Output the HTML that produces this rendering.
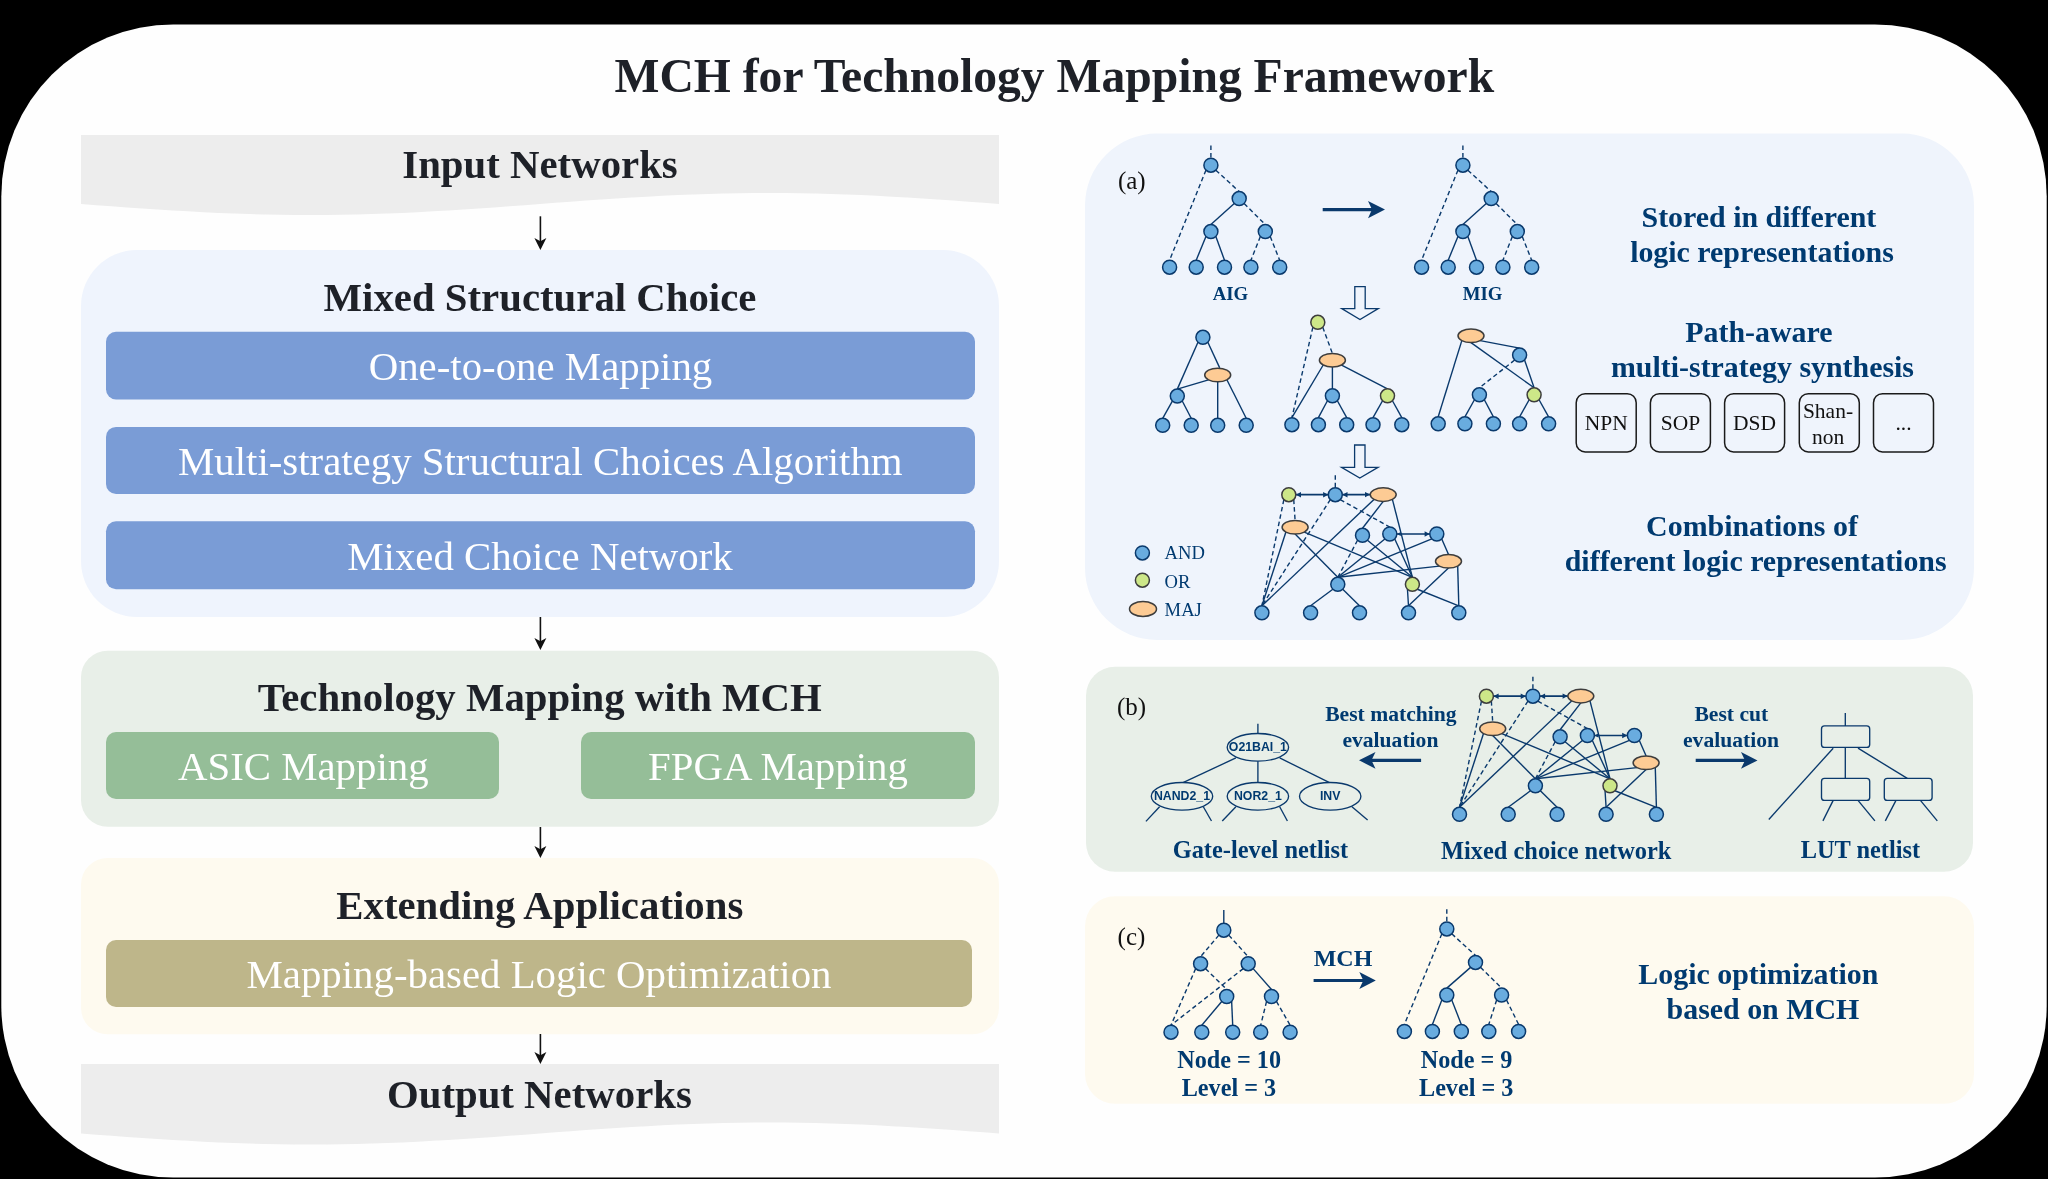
<!DOCTYPE html><html><head><meta charset="utf-8"><style>html,body{margin:0;padding:0;background:#000;width:2048px;height:1179px;overflow:hidden}svg{display:block;will-change:transform}</style></head><body><svg width="2048" height="1179" viewBox="0 0 2048 1179">
<rect x="0" y="0" width="2048" height="1179" fill="#000"/>
<rect x="1.3" y="24.4" width="2045.4" height="1153.1" rx="172" ry="172" fill="#fefefe"/>
<text x="1054.35" y="92.20" font-family="Liberation Serif" font-size="47.6" font-weight="bold" fill="#1e2128" text-anchor="middle">MCH for Technology Mapping Framework</text>
<path d="M81,135 L999,135 L999.00,204.00 L983.70,202.85 L968.40,201.71 L953.10,200.60 L937.80,199.53 L922.50,198.50 L907.20,197.53 L891.90,196.64 L876.60,195.83 L861.30,195.10 L846.00,194.47 L830.70,193.95 L815.40,193.54 L800.10,193.24 L784.80,193.06 L769.50,193.00 L754.20,193.06 L738.90,193.24 L723.60,193.54 L708.30,193.95 L693.00,194.47 L677.70,195.10 L662.40,195.83 L647.10,196.64 L631.80,197.53 L616.50,198.50 L601.20,199.53 L585.90,200.60 L570.60,201.71 L555.30,202.85 L540.00,204.00 L524.70,205.15 L509.40,206.29 L494.10,207.40 L478.80,208.47 L463.50,209.50 L448.20,210.47 L432.90,211.36 L417.60,212.17 L402.30,212.90 L387.00,213.53 L371.70,214.05 L356.40,214.46 L341.10,214.76 L325.80,214.94 L310.50,215.00 L295.20,214.94 L279.90,214.76 L264.60,214.46 L249.30,214.05 L234.00,213.53 L218.70,212.90 L203.40,212.17 L188.10,211.36 L172.80,210.47 L157.50,209.50 L142.20,208.47 L126.90,207.40 L111.60,206.29 L96.30,205.15 L81.00,204.00 Z" fill="#ededed"/>
<text x="540.00" y="177.60" font-family="Liberation Serif" font-size="40.8" font-weight="bold" fill="#1e2128" text-anchor="middle">Input Networks</text>
<line x1="540.4" y1="216.3" x2="540.4" y2="242" stroke="#111" stroke-width="1.6"/><path d="M540.4,250 L534.4,238 L540.4,241.3 L546.4,238 Z" fill="#111"/>
<rect x="81" y="250" width="918" height="367" rx="56" fill="#eff4fd"/>
<text x="540.00" y="310.80" font-family="Liberation Serif" font-size="40.8" font-weight="bold" fill="#1e2128" text-anchor="middle">Mixed Structural Choice</text>
<rect x="106" y="331.7" width="869" height="67.8" rx="10" fill="#7a9cd6"/>
<rect x="106" y="426.9" width="869" height="67.1" rx="10" fill="#7a9cd6"/>
<rect x="106" y="521.2" width="869" height="68.1" rx="10" fill="#7a9cd6"/>
<text x="540.50" y="380.20" font-family="Liberation Serif" font-size="40.85" font-weight="normal" fill="#fff" text-anchor="middle">One-to-one Mapping</text>
<text x="540.30" y="475.00" font-family="Liberation Serif" font-size="40.85" font-weight="normal" fill="#fff" text-anchor="middle">Multi-strategy Structural Choices Algorithm</text>
<text x="540.00" y="569.70" font-family="Liberation Serif" font-size="40.85" font-weight="normal" fill="#fff" text-anchor="middle">Mixed Choice Network</text>
<line x1="540.4" y1="617" x2="540.4" y2="642" stroke="#111" stroke-width="1.6"/><path d="M540.4,650 L534.4,638 L540.4,641.3 L546.4,638 Z" fill="#111"/>
<rect x="81" y="650.7" width="918" height="176" rx="26.5" fill="#e8efe8"/>
<text x="539.80" y="710.50" font-family="Liberation Serif" font-size="40.8" font-weight="bold" fill="#1e2128" text-anchor="middle">Technology Mapping with MCH</text>
<rect x="106" y="732" width="393" height="67" rx="10" fill="#95be98"/>
<rect x="581" y="732" width="394" height="67" rx="10" fill="#95be98"/>
<text x="303.30" y="779.70" font-family="Liberation Serif" font-size="40.85" font-weight="normal" fill="#fff" text-anchor="middle">ASIC Mapping</text>
<text x="778.00" y="779.70" font-family="Liberation Serif" font-size="40.85" font-weight="normal" fill="#fff" text-anchor="middle">FPGA Mapping</text>
<line x1="540.4" y1="827" x2="540.4" y2="850" stroke="#111" stroke-width="1.6"/><path d="M540.4,858 L534.4,846 L540.4,849.3 L546.4,846 Z" fill="#111"/>
<rect x="81" y="858" width="918" height="176.3" rx="26.5" fill="#fefaef"/>
<text x="539.80" y="919.40" font-family="Liberation Serif" font-size="40.8" font-weight="bold" fill="#1e2128" text-anchor="middle">Extending Applications</text>
<rect x="106" y="940" width="866" height="67" rx="10" fill="#beb68a"/>
<text x="539.00" y="988.10" font-family="Liberation Serif" font-size="40.85" font-weight="normal" fill="#fff" text-anchor="middle">Mapping-based Logic Optimization</text>
<line x1="540.4" y1="1034" x2="540.4" y2="1056" stroke="#111" stroke-width="1.6"/><path d="M540.4,1064 L534.4,1052 L540.4,1055.3 L546.4,1052 Z" fill="#111"/>
<path d="M81,1064 L999,1064 L999.00,1133.50 L983.70,1132.35 L968.40,1131.21 L953.10,1130.10 L937.80,1129.03 L922.50,1128.00 L907.20,1127.03 L891.90,1126.14 L876.60,1125.33 L861.30,1124.60 L846.00,1123.97 L830.70,1123.45 L815.40,1123.04 L800.10,1122.74 L784.80,1122.56 L769.50,1122.50 L754.20,1122.56 L738.90,1122.74 L723.60,1123.04 L708.30,1123.45 L693.00,1123.97 L677.70,1124.60 L662.40,1125.33 L647.10,1126.14 L631.80,1127.03 L616.50,1128.00 L601.20,1129.03 L585.90,1130.10 L570.60,1131.21 L555.30,1132.35 L540.00,1133.50 L524.70,1134.65 L509.40,1135.79 L494.10,1136.90 L478.80,1137.97 L463.50,1139.00 L448.20,1139.97 L432.90,1140.86 L417.60,1141.67 L402.30,1142.40 L387.00,1143.03 L371.70,1143.55 L356.40,1143.96 L341.10,1144.26 L325.80,1144.44 L310.50,1144.50 L295.20,1144.44 L279.90,1144.26 L264.60,1143.96 L249.30,1143.55 L234.00,1143.03 L218.70,1142.40 L203.40,1141.67 L188.10,1140.86 L172.80,1139.97 L157.50,1139.00 L142.20,1137.97 L126.90,1136.90 L111.60,1135.79 L96.30,1134.65 L81.00,1133.50 Z" fill="#ededed"/>
<text x="539.40" y="1107.60" font-family="Liberation Serif" font-size="40.8" font-weight="bold" fill="#1e2128" text-anchor="middle">Output Networks</text>
<rect x="1085" y="133.6" width="889" height="506.3" rx="72" fill="#eff4fc"/>
<rect x="1086" y="666.8" width="887" height="205" rx="29" fill="#e8efe8"/>
<rect x="1085" y="896.2" width="889" height="207.6" rx="30" fill="#fefaef"/>
<text x="1117.90" y="188.70" font-family="Liberation Serif" font-size="25" font-weight="normal" fill="#111" text-anchor="start">(a)</text>
<line x1="1210.90" y1="145.60" x2="1210.90" y2="158.20" stroke="#0a396c" stroke-width="1.4" stroke-dasharray="4.5,3"/>
<line x1="1215.85" y1="170.15" x2="1239.20" y2="191.60" stroke="#0a396c" stroke-width="1.4" stroke-dasharray="4.5,3"/>
<line x1="1205.95" y1="170.15" x2="1169.60" y2="260.20" stroke="#0a396c" stroke-width="1.4" stroke-dasharray="4.5,3"/>
<line x1="1234.25" y1="203.55" x2="1210.90" y2="224.60" stroke="#0a396c" stroke-width="1.4"/>
<line x1="1244.15" y1="203.55" x2="1265.30" y2="224.60" stroke="#0a396c" stroke-width="1.4" stroke-dasharray="4.5,3"/>
<line x1="1205.95" y1="236.55" x2="1196.20" y2="260.20" stroke="#0a396c" stroke-width="1.4"/>
<line x1="1215.85" y1="236.55" x2="1224.50" y2="260.20" stroke="#0a396c" stroke-width="1.4"/>
<line x1="1260.35" y1="236.55" x2="1250.90" y2="260.20" stroke="#0a396c" stroke-width="1.4" stroke-dasharray="4.5,3"/>
<line x1="1270.25" y1="236.55" x2="1279.70" y2="260.20" stroke="#0a396c" stroke-width="1.4" stroke-dasharray="4.5,3"/>
<circle cx="1210.90" cy="165.20" r="7.0" fill="#69acdf" stroke="#0a396c" stroke-width="1.5"/>
<circle cx="1239.20" cy="198.60" r="7.0" fill="#69acdf" stroke="#0a396c" stroke-width="1.5"/>
<circle cx="1210.90" cy="231.60" r="7.0" fill="#69acdf" stroke="#0a396c" stroke-width="1.5"/>
<circle cx="1265.30" cy="231.60" r="7.0" fill="#69acdf" stroke="#0a396c" stroke-width="1.5"/>
<circle cx="1169.60" cy="267.20" r="7.0" fill="#69acdf" stroke="#0a396c" stroke-width="1.5"/>
<circle cx="1196.20" cy="267.20" r="7.0" fill="#69acdf" stroke="#0a396c" stroke-width="1.5"/>
<circle cx="1224.50" cy="267.20" r="7.0" fill="#69acdf" stroke="#0a396c" stroke-width="1.5"/>
<circle cx="1250.90" cy="267.20" r="7.0" fill="#69acdf" stroke="#0a396c" stroke-width="1.5"/>
<circle cx="1279.70" cy="267.20" r="7.0" fill="#69acdf" stroke="#0a396c" stroke-width="1.5"/>
<line x1="1462.90" y1="145.60" x2="1462.90" y2="158.20" stroke="#0a396c" stroke-width="1.4" stroke-dasharray="4.5,3"/>
<line x1="1467.85" y1="170.15" x2="1491.20" y2="191.60" stroke="#0a396c" stroke-width="1.4" stroke-dasharray="4.5,3"/>
<line x1="1457.95" y1="170.15" x2="1421.60" y2="260.20" stroke="#0a396c" stroke-width="1.4" stroke-dasharray="4.5,3"/>
<line x1="1486.25" y1="203.55" x2="1462.90" y2="224.60" stroke="#0a396c" stroke-width="1.4"/>
<line x1="1496.15" y1="203.55" x2="1517.30" y2="224.60" stroke="#0a396c" stroke-width="1.4" stroke-dasharray="4.5,3"/>
<line x1="1457.95" y1="236.55" x2="1448.20" y2="260.20" stroke="#0a396c" stroke-width="1.4"/>
<line x1="1467.85" y1="236.55" x2="1476.50" y2="260.20" stroke="#0a396c" stroke-width="1.4"/>
<line x1="1512.35" y1="236.55" x2="1502.90" y2="260.20" stroke="#0a396c" stroke-width="1.4" stroke-dasharray="4.5,3"/>
<line x1="1522.25" y1="236.55" x2="1531.70" y2="260.20" stroke="#0a396c" stroke-width="1.4" stroke-dasharray="4.5,3"/>
<circle cx="1462.90" cy="165.20" r="7.0" fill="#69acdf" stroke="#0a396c" stroke-width="1.5"/>
<circle cx="1491.20" cy="198.60" r="7.0" fill="#69acdf" stroke="#0a396c" stroke-width="1.5"/>
<circle cx="1462.90" cy="231.60" r="7.0" fill="#69acdf" stroke="#0a396c" stroke-width="1.5"/>
<circle cx="1517.30" cy="231.60" r="7.0" fill="#69acdf" stroke="#0a396c" stroke-width="1.5"/>
<circle cx="1421.60" cy="267.20" r="7.0" fill="#69acdf" stroke="#0a396c" stroke-width="1.5"/>
<circle cx="1448.20" cy="267.20" r="7.0" fill="#69acdf" stroke="#0a396c" stroke-width="1.5"/>
<circle cx="1476.50" cy="267.20" r="7.0" fill="#69acdf" stroke="#0a396c" stroke-width="1.5"/>
<circle cx="1502.90" cy="267.20" r="7.0" fill="#69acdf" stroke="#0a396c" stroke-width="1.5"/>
<circle cx="1531.70" cy="267.20" r="7.0" fill="#69acdf" stroke="#0a396c" stroke-width="1.5"/>
<text x="1230.40" y="300.00" font-family="Liberation Serif" font-size="18.8" font-weight="bold" fill="#003a70" text-anchor="middle">AIG</text>
<text x="1482.60" y="300.00" font-family="Liberation Serif" font-size="18.8" font-weight="bold" fill="#003a70" text-anchor="middle">MIG</text>
<line x1="1322.7" y1="209.6" x2="1373" y2="209.6" stroke="#0a396c" stroke-width="3.2"/><path d="M1385,209.6 L1368,201.0 L1372,209.6 L1368,218.2 Z" fill="#0a396c"/>
<text x="1758.90" y="226.80" font-family="Liberation Serif" font-size="29.9" font-weight="bold" fill="#003a70" text-anchor="middle">Stored in different</text>
<text x="1762.00" y="262.00" font-family="Liberation Serif" font-size="29.9" font-weight="bold" fill="#003a70" text-anchor="middle">logic representations</text>
<path d="M1354.8,286.6 L1365.2,286.6 L1365.2,308.6 L1378.25,308.6 L1360,319.6 L1341.75,308.6 L1354.8,308.6 Z" fill="#eff4fc" stroke="#0a396c" stroke-width="1.3" stroke-linejoin="miter"/>
<line x1="1197.95" y1="342.25" x2="1177.30" y2="389.10" stroke="#0a396c" stroke-width="1.4"/>
<line x1="1207.85" y1="342.25" x2="1219.70" y2="367.90" stroke="#0a396c" stroke-width="1.4"/>
<line x1="1208.51" y1="379.81" x2="1177.30" y2="389.10" stroke="#0a396c" stroke-width="1.4"/>
<line x1="1217.70" y1="381.80" x2="1217.70" y2="418.30" stroke="#0a396c" stroke-width="1.4"/>
<line x1="1226.89" y1="379.81" x2="1246.20" y2="418.30" stroke="#0a396c" stroke-width="1.4"/>
<line x1="1172.35" y1="401.05" x2="1162.70" y2="418.30" stroke="#0a396c" stroke-width="1.4"/>
<line x1="1182.25" y1="401.05" x2="1191.20" y2="418.30" stroke="#0a396c" stroke-width="1.4"/>
<circle cx="1202.90" cy="337.30" r="7.0" fill="#69acdf" stroke="#0a396c" stroke-width="1.5"/>
<ellipse cx="1217.70" cy="375.00" rx="13.0" ry="6.8" fill="#fdcb94" stroke="#3d3d3d" stroke-width="1.5"/>
<circle cx="1177.30" cy="396.10" r="7.0" fill="#69acdf" stroke="#0a396c" stroke-width="1.5"/>
<circle cx="1162.70" cy="425.30" r="7.0" fill="#69acdf" stroke="#0a396c" stroke-width="1.5"/>
<circle cx="1191.20" cy="425.30" r="7.0" fill="#69acdf" stroke="#0a396c" stroke-width="1.5"/>
<circle cx="1217.70" cy="425.30" r="7.0" fill="#69acdf" stroke="#0a396c" stroke-width="1.5"/>
<circle cx="1246.20" cy="425.30" r="7.0" fill="#69acdf" stroke="#0a396c" stroke-width="1.5"/>
<line x1="1312.85" y1="327.30" x2="1291.90" y2="417.70" stroke="#0a396c" stroke-width="1.4" stroke-dasharray="4.5,3"/>
<line x1="1322.75" y1="327.30" x2="1332.40" y2="353.40" stroke="#0a396c" stroke-width="1.4" stroke-dasharray="4.5,3"/>
<line x1="1323.21" y1="365.01" x2="1291.90" y2="417.70" stroke="#0a396c" stroke-width="1.4"/>
<line x1="1332.40" y1="367.00" x2="1332.40" y2="388.80" stroke="#0a396c" stroke-width="1.4"/>
<line x1="1341.59" y1="365.01" x2="1387.50" y2="388.80" stroke="#0a396c" stroke-width="1.4"/>
<line x1="1327.45" y1="400.75" x2="1318.40" y2="417.70" stroke="#0a396c" stroke-width="1.4"/>
<line x1="1337.35" y1="400.75" x2="1346.70" y2="417.70" stroke="#0a396c" stroke-width="1.4"/>
<line x1="1382.55" y1="400.75" x2="1373.00" y2="417.70" stroke="#0a396c" stroke-width="1.4"/>
<line x1="1392.45" y1="400.75" x2="1401.80" y2="417.70" stroke="#0a396c" stroke-width="1.4"/>
<circle cx="1317.80" cy="322.35" r="7.0" fill="#cde788" stroke="#3d3d3d" stroke-width="1.5"/>
<ellipse cx="1332.40" cy="360.20" rx="13.0" ry="6.8" fill="#fdcb94" stroke="#3d3d3d" stroke-width="1.5"/>
<circle cx="1332.40" cy="395.80" r="7.0" fill="#69acdf" stroke="#0a396c" stroke-width="1.5"/>
<circle cx="1387.50" cy="395.80" r="7.0" fill="#cde788" stroke="#3d3d3d" stroke-width="1.5"/>
<circle cx="1291.90" cy="424.70" r="7.0" fill="#69acdf" stroke="#0a396c" stroke-width="1.5"/>
<circle cx="1318.40" cy="424.70" r="7.0" fill="#69acdf" stroke="#0a396c" stroke-width="1.5"/>
<circle cx="1346.70" cy="424.70" r="7.0" fill="#69acdf" stroke="#0a396c" stroke-width="1.5"/>
<circle cx="1373.00" cy="424.70" r="7.0" fill="#69acdf" stroke="#0a396c" stroke-width="1.5"/>
<circle cx="1401.80" cy="424.70" r="7.0" fill="#69acdf" stroke="#0a396c" stroke-width="1.5"/>
<line x1="1461.81" y1="340.61" x2="1438.20" y2="416.80" stroke="#0a396c" stroke-width="1.4"/>
<line x1="1480.19" y1="340.61" x2="1519.60" y2="348.10" stroke="#0a396c" stroke-width="1.4"/>
<line x1="1471.00" y1="342.60" x2="1534.10" y2="387.80" stroke="#0a396c" stroke-width="1.4"/>
<line x1="1524.55" y1="360.05" x2="1534.10" y2="387.80" stroke="#0a396c" stroke-width="1.4"/>
<line x1="1514.65" y1="360.05" x2="1479.40" y2="387.80" stroke="#0a396c" stroke-width="1.4" stroke-dasharray="4.5,3"/>
<line x1="1474.45" y1="399.75" x2="1464.90" y2="416.80" stroke="#0a396c" stroke-width="1.4"/>
<line x1="1484.35" y1="399.75" x2="1493.40" y2="416.80" stroke="#0a396c" stroke-width="1.4"/>
<line x1="1529.15" y1="399.75" x2="1519.60" y2="416.80" stroke="#0a396c" stroke-width="1.4"/>
<line x1="1539.05" y1="399.75" x2="1548.60" y2="416.80" stroke="#0a396c" stroke-width="1.4"/>
<ellipse cx="1471.00" cy="335.80" rx="13.0" ry="6.8" fill="#fdcb94" stroke="#3d3d3d" stroke-width="1.5"/>
<circle cx="1519.60" cy="355.10" r="7.0" fill="#69acdf" stroke="#0a396c" stroke-width="1.5"/>
<circle cx="1479.40" cy="394.80" r="7.0" fill="#69acdf" stroke="#0a396c" stroke-width="1.5"/>
<circle cx="1534.10" cy="394.80" r="7.0" fill="#cde788" stroke="#3d3d3d" stroke-width="1.5"/>
<circle cx="1438.20" cy="423.80" r="7.0" fill="#69acdf" stroke="#0a396c" stroke-width="1.5"/>
<circle cx="1464.90" cy="423.80" r="7.0" fill="#69acdf" stroke="#0a396c" stroke-width="1.5"/>
<circle cx="1493.40" cy="423.80" r="7.0" fill="#69acdf" stroke="#0a396c" stroke-width="1.5"/>
<circle cx="1519.60" cy="423.80" r="7.0" fill="#69acdf" stroke="#0a396c" stroke-width="1.5"/>
<circle cx="1548.60" cy="423.80" r="7.0" fill="#69acdf" stroke="#0a396c" stroke-width="1.5"/>
<text x="1758.90" y="342.00" font-family="Liberation Serif" font-size="29.9" font-weight="bold" fill="#003a70" text-anchor="middle">Path-aware</text>
<text x="1762.50" y="376.90" font-family="Liberation Serif" font-size="29.9" font-weight="bold" fill="#003a70" text-anchor="middle">multi-strategy synthesis</text>
<rect x="1576.2" y="393.7" width="60" height="58.2" rx="9" fill="none" stroke="#1a1a1a" stroke-width="1.5"/>
<text x="1606.20" y="430.40" font-family="Liberation Serif" font-size="21.5" font-weight="normal" fill="#111" text-anchor="middle">NPN</text>
<rect x="1650.4" y="393.7" width="60" height="58.2" rx="9" fill="none" stroke="#1a1a1a" stroke-width="1.5"/>
<text x="1680.40" y="430.40" font-family="Liberation Serif" font-size="21.5" font-weight="normal" fill="#111" text-anchor="middle">SOP</text>
<rect x="1724.6" y="393.7" width="60" height="58.2" rx="9" fill="none" stroke="#1a1a1a" stroke-width="1.5"/>
<text x="1754.60" y="430.40" font-family="Liberation Serif" font-size="21.5" font-weight="normal" fill="#111" text-anchor="middle">DSD</text>
<rect x="1799.3" y="393.7" width="60" height="58.2" rx="9" fill="none" stroke="#1a1a1a" stroke-width="1.5"/>
<rect x="1873.5" y="393.7" width="60" height="58.2" rx="9" fill="none" stroke="#1a1a1a" stroke-width="1.5"/>
<text x="1903.50" y="430.40" font-family="Liberation Serif" font-size="21.5" font-weight="normal" fill="#111" text-anchor="middle">...</text>
<text x="1828.00" y="418.00" font-family="Liberation Serif" font-size="21.5" font-weight="normal" fill="#111" text-anchor="middle">Shan-</text>
<text x="1828.00" y="443.50" font-family="Liberation Serif" font-size="21.5" font-weight="normal" fill="#111" text-anchor="middle">non</text>
<path d="M1354.6,445 L1365.0,445 L1365.0,467.3 L1378.05,467.3 L1359.8,478 L1341.55,467.3 L1354.6,467.3 Z" fill="#eff4fc" stroke="#0a396c" stroke-width="1.3" stroke-linejoin="miter"/>
<line x1="1335.30" y1="475.30" x2="1335.30" y2="487.70" stroke="#0a396c" stroke-width="1.4" stroke-dasharray="4.5,3"/>
<line x1="1283.85" y1="499.65" x2="1261.90" y2="605.80" stroke="#0a396c" stroke-width="1.4" stroke-dasharray="4.5,3"/>
<line x1="1293.75" y1="499.65" x2="1295.10" y2="520.45" stroke="#0a396c" stroke-width="1.4" stroke-dasharray="4.5,3"/>
<line x1="1330.35" y1="499.65" x2="1261.90" y2="605.80" stroke="#0a396c" stroke-width="1.4" stroke-dasharray="4.5,3"/>
<line x1="1340.25" y1="499.65" x2="1389.80" y2="527.00" stroke="#0a396c" stroke-width="1.4" stroke-dasharray="4.5,3"/>
<line x1="1374.01" y1="499.41" x2="1261.90" y2="605.80" stroke="#0a396c" stroke-width="1.4"/>
<line x1="1383.20" y1="501.40" x2="1362.50" y2="528.30" stroke="#0a396c" stroke-width="1.4"/>
<line x1="1392.39" y1="499.41" x2="1412.40" y2="577.30" stroke="#0a396c" stroke-width="1.4"/>
<line x1="1285.91" y1="532.06" x2="1261.90" y2="605.80" stroke="#0a396c" stroke-width="1.4"/>
<line x1="1295.10" y1="534.05" x2="1337.80" y2="577.30" stroke="#0a396c" stroke-width="1.4"/>
<line x1="1304.29" y1="532.06" x2="1412.40" y2="577.30" stroke="#0a396c" stroke-width="1.4"/>
<line x1="1367.45" y1="540.25" x2="1412.40" y2="577.30" stroke="#0a396c" stroke-width="1.4"/>
<line x1="1357.55" y1="540.25" x2="1337.80" y2="577.30" stroke="#0a396c" stroke-width="1.4" stroke-dasharray="4.5,3"/>
<line x1="1384.85" y1="538.95" x2="1337.80" y2="577.30" stroke="#0a396c" stroke-width="1.4"/>
<line x1="1394.75" y1="538.95" x2="1412.40" y2="577.30" stroke="#0a396c" stroke-width="1.4"/>
<line x1="1431.85" y1="538.95" x2="1337.80" y2="577.30" stroke="#0a396c" stroke-width="1.4"/>
<line x1="1441.75" y1="538.95" x2="1448.50" y2="554.50" stroke="#0a396c" stroke-width="1.4"/>
<line x1="1439.31" y1="566.11" x2="1337.80" y2="577.30" stroke="#0a396c" stroke-width="1.4"/>
<line x1="1448.50" y1="568.10" x2="1408.50" y2="605.80" stroke="#0a396c" stroke-width="1.4"/>
<line x1="1457.69" y1="566.11" x2="1458.80" y2="605.80" stroke="#0a396c" stroke-width="1.4"/>
<line x1="1407.45" y1="589.25" x2="1408.50" y2="605.80" stroke="#0a396c" stroke-width="1.4"/>
<line x1="1417.35" y1="589.25" x2="1458.80" y2="605.80" stroke="#0a396c" stroke-width="1.4"/>
<line x1="1332.85" y1="589.25" x2="1310.60" y2="605.80" stroke="#0a396c" stroke-width="1.4"/>
<line x1="1342.75" y1="589.25" x2="1359.50" y2="605.80" stroke="#0a396c" stroke-width="1.4"/>
<line x1="1295.80" y1="494.70" x2="1328.30" y2="494.70" stroke="#0a396c" stroke-width="1.7"/>
<path d="M1328.30,494.70 L1323.10,497.40 L1323.10,492.00 Z" fill="#0a396c"/>
<path d="M1295.80,494.70 L1301.00,492.00 L1301.00,497.40 Z" fill="#0a396c"/>
<line x1="1342.30" y1="494.70" x2="1370.20" y2="494.60" stroke="#0a396c" stroke-width="1.7"/>
<path d="M1370.20,494.60 L1365.01,497.32 L1364.99,491.92 Z" fill="#0a396c"/>
<path d="M1342.30,494.70 L1347.49,491.98 L1347.51,497.38 Z" fill="#0a396c"/>
<line x1="1396.80" y1="534.00" x2="1429.80" y2="534.00" stroke="#0a396c" stroke-width="1.7"/>
<path d="M1429.80,534.00 L1424.60,536.70 L1424.60,531.30 Z" fill="#0a396c"/>
<path d="M1396.80,534.00 L1400.80,532.00 L1400.80,536.00 Z" fill="#0a396c"/>
<circle cx="1288.80" cy="494.70" r="7.0" fill="#cde788" stroke="#3d3d3d" stroke-width="1.5"/>
<circle cx="1335.30" cy="494.70" r="7.0" fill="#69acdf" stroke="#0a396c" stroke-width="1.5"/>
<ellipse cx="1383.20" cy="494.60" rx="13.0" ry="6.8" fill="#fdcb94" stroke="#3d3d3d" stroke-width="1.5"/>
<ellipse cx="1295.10" cy="527.25" rx="13.0" ry="6.8" fill="#fdcb94" stroke="#3d3d3d" stroke-width="1.5"/>
<circle cx="1362.50" cy="535.30" r="7.0" fill="#69acdf" stroke="#0a396c" stroke-width="1.5"/>
<circle cx="1389.80" cy="534.00" r="7.0" fill="#69acdf" stroke="#0a396c" stroke-width="1.5"/>
<circle cx="1436.80" cy="534.00" r="7.0" fill="#69acdf" stroke="#0a396c" stroke-width="1.5"/>
<ellipse cx="1448.50" cy="561.30" rx="13.0" ry="6.8" fill="#fdcb94" stroke="#3d3d3d" stroke-width="1.5"/>
<circle cx="1337.80" cy="584.30" r="7.0" fill="#69acdf" stroke="#0a396c" stroke-width="1.5"/>
<circle cx="1412.40" cy="584.30" r="7.0" fill="#cde788" stroke="#3d3d3d" stroke-width="1.5"/>
<circle cx="1261.90" cy="612.80" r="7.0" fill="#69acdf" stroke="#0a396c" stroke-width="1.5"/>
<circle cx="1310.60" cy="612.80" r="7.0" fill="#69acdf" stroke="#0a396c" stroke-width="1.5"/>
<circle cx="1359.50" cy="612.80" r="7.0" fill="#69acdf" stroke="#0a396c" stroke-width="1.5"/>
<circle cx="1408.50" cy="612.80" r="7.0" fill="#69acdf" stroke="#0a396c" stroke-width="1.5"/>
<circle cx="1458.80" cy="612.80" r="7.0" fill="#69acdf" stroke="#0a396c" stroke-width="1.5"/>
<circle cx="1142.40" cy="552.90" r="7.0" fill="#69acdf" stroke="#0a396c" stroke-width="1.5"/>
<circle cx="1142.40" cy="580.20" r="7.0" fill="#cde788" stroke="#3d3d3d" stroke-width="1.5"/>
<ellipse cx="1143.00" cy="609.00" rx="13.5" ry="7.4" fill="#fdcb94" stroke="#3d3d3d" stroke-width="1.5"/>
<text x="1164.60" y="559.40" font-family="Liberation Serif" font-size="18.6" font-weight="normal" fill="#003a70" text-anchor="start">AND</text>
<text x="1164.60" y="587.70" font-family="Liberation Serif" font-size="18.6" font-weight="normal" fill="#003a70" text-anchor="start">OR</text>
<text x="1164.60" y="616.00" font-family="Liberation Serif" font-size="18.6" font-weight="normal" fill="#003a70" text-anchor="start">MAJ</text>
<text x="1752.00" y="535.80" font-family="Liberation Serif" font-size="29.9" font-weight="bold" fill="#003a70" text-anchor="middle">Combinations of</text>
<text x="1755.70" y="571.20" font-family="Liberation Serif" font-size="29.9" font-weight="bold" fill="#003a70" text-anchor="middle">different logic representations</text>
<text x="1117.00" y="715.00" font-family="Liberation Serif" font-size="25" font-weight="normal" fill="#111" text-anchor="start">(b)</text>
<line x1="1257.90" y1="723.70" x2="1257.90" y2="733.40" stroke="#0a396c" stroke-width="1.35"/>
<line x1="1235.90" y1="757.89" x2="1182.98" y2="782.72" stroke="#0a396c" stroke-width="1.35"/>
<line x1="1257.90" y1="761.20" x2="1257.90" y2="782.10" stroke="#0a396c" stroke-width="1.35"/>
<line x1="1279.67" y1="757.89" x2="1329.54" y2="782.72" stroke="#0a396c" stroke-width="1.35"/>
<line x1="1159.57" y1="806.74" x2="1145.93" y2="821.40" stroke="#0a396c" stroke-width="1.35"/>
<line x1="1203.33" y1="806.74" x2="1211.48" y2="820.99" stroke="#0a396c" stroke-width="1.35"/>
<line x1="1235.90" y1="806.74" x2="1222.26" y2="820.99" stroke="#0a396c" stroke-width="1.35"/>
<line x1="1279.67" y1="806.74" x2="1287.40" y2="820.99" stroke="#0a396c" stroke-width="1.35"/>
<line x1="1351.93" y1="806.74" x2="1367.61" y2="819.97" stroke="#0a396c" stroke-width="1.35"/>
<ellipse cx="1257.9" cy="747.3" rx="30.7" ry="13.8" fill="#e8efe8" stroke="#0a396c" stroke-width="1.35"/>
<text x="1257.90" y="750.60" font-family="Liberation Sans" font-size="12.3" font-weight="bold" fill="#003a70" text-anchor="middle">O21BAI_1</text>
<ellipse cx="1182" cy="796.3" rx="30.7" ry="13.8" fill="#e8efe8" stroke="#0a396c" stroke-width="1.35"/>
<text x="1182.00" y="799.60" font-family="Liberation Sans" font-size="12.3" font-weight="bold" fill="#003a70" text-anchor="middle">NAND2_1</text>
<ellipse cx="1257.9" cy="796.3" rx="30.7" ry="13.8" fill="#e8efe8" stroke="#0a396c" stroke-width="1.35"/>
<text x="1257.90" y="799.60" font-family="Liberation Sans" font-size="12.3" font-weight="bold" fill="#003a70" text-anchor="middle">NOR2_1</text>
<ellipse cx="1330.2" cy="796.3" rx="30.7" ry="13.8" fill="#e8efe8" stroke="#0a396c" stroke-width="1.35"/>
<text x="1330.20" y="799.60" font-family="Liberation Sans" font-size="12.3" font-weight="bold" fill="#003a70" text-anchor="middle">INV</text>
<text x="1390.90" y="721.00" font-family="Liberation Serif" font-size="21.6" font-weight="bold" fill="#003a70" text-anchor="middle">Best matching</text>
<text x="1390.40" y="746.50" font-family="Liberation Serif" font-size="21.6" font-weight="bold" fill="#003a70" text-anchor="middle">evaluation</text>
<line x1="1370.5" y1="760.3" x2="1421.1" y2="760.3" stroke="#0a396c" stroke-width="3.2"/><path d="M1359,760.3 L1375.5,751.9 L1371.5,760.3 L1375.5,768.6999999999999 Z" fill="#0a396c"/>
<line x1="1532.90" y1="676.80" x2="1532.90" y2="689.20" stroke="#0a396c" stroke-width="1.4" stroke-dasharray="4.5,3"/>
<line x1="1481.45" y1="701.15" x2="1459.50" y2="807.30" stroke="#0a396c" stroke-width="1.4" stroke-dasharray="4.5,3"/>
<line x1="1491.35" y1="701.15" x2="1492.70" y2="721.95" stroke="#0a396c" stroke-width="1.4" stroke-dasharray="4.5,3"/>
<line x1="1527.95" y1="701.15" x2="1459.50" y2="807.30" stroke="#0a396c" stroke-width="1.4" stroke-dasharray="4.5,3"/>
<line x1="1537.85" y1="701.15" x2="1587.40" y2="728.50" stroke="#0a396c" stroke-width="1.4" stroke-dasharray="4.5,3"/>
<line x1="1571.61" y1="700.91" x2="1459.50" y2="807.30" stroke="#0a396c" stroke-width="1.4"/>
<line x1="1580.80" y1="702.90" x2="1560.10" y2="729.80" stroke="#0a396c" stroke-width="1.4"/>
<line x1="1589.99" y1="700.91" x2="1610.00" y2="778.80" stroke="#0a396c" stroke-width="1.4"/>
<line x1="1483.51" y1="733.56" x2="1459.50" y2="807.30" stroke="#0a396c" stroke-width="1.4"/>
<line x1="1492.70" y1="735.55" x2="1535.40" y2="778.80" stroke="#0a396c" stroke-width="1.4"/>
<line x1="1501.89" y1="733.56" x2="1610.00" y2="778.80" stroke="#0a396c" stroke-width="1.4"/>
<line x1="1565.05" y1="741.75" x2="1610.00" y2="778.80" stroke="#0a396c" stroke-width="1.4"/>
<line x1="1555.15" y1="741.75" x2="1535.40" y2="778.80" stroke="#0a396c" stroke-width="1.4" stroke-dasharray="4.5,3"/>
<line x1="1582.45" y1="740.45" x2="1535.40" y2="778.80" stroke="#0a396c" stroke-width="1.4"/>
<line x1="1592.35" y1="740.45" x2="1610.00" y2="778.80" stroke="#0a396c" stroke-width="1.4"/>
<line x1="1629.45" y1="740.45" x2="1535.40" y2="778.80" stroke="#0a396c" stroke-width="1.4"/>
<line x1="1639.35" y1="740.45" x2="1646.10" y2="756.00" stroke="#0a396c" stroke-width="1.4"/>
<line x1="1636.91" y1="767.61" x2="1535.40" y2="778.80" stroke="#0a396c" stroke-width="1.4"/>
<line x1="1646.10" y1="769.60" x2="1606.10" y2="807.30" stroke="#0a396c" stroke-width="1.4"/>
<line x1="1655.29" y1="767.61" x2="1656.40" y2="807.30" stroke="#0a396c" stroke-width="1.4"/>
<line x1="1605.05" y1="790.75" x2="1606.10" y2="807.30" stroke="#0a396c" stroke-width="1.4"/>
<line x1="1614.95" y1="790.75" x2="1656.40" y2="807.30" stroke="#0a396c" stroke-width="1.4"/>
<line x1="1530.45" y1="790.75" x2="1508.20" y2="807.30" stroke="#0a396c" stroke-width="1.4"/>
<line x1="1540.35" y1="790.75" x2="1557.10" y2="807.30" stroke="#0a396c" stroke-width="1.4"/>
<line x1="1493.40" y1="696.20" x2="1525.90" y2="696.20" stroke="#0a396c" stroke-width="1.7"/>
<path d="M1525.90,696.20 L1520.70,698.90 L1520.70,693.50 Z" fill="#0a396c"/>
<path d="M1493.40,696.20 L1498.60,693.50 L1498.60,698.90 Z" fill="#0a396c"/>
<line x1="1539.90" y1="696.20" x2="1567.80" y2="696.10" stroke="#0a396c" stroke-width="1.7"/>
<path d="M1567.80,696.10 L1562.61,698.82 L1562.59,693.42 Z" fill="#0a396c"/>
<path d="M1539.90,696.20 L1545.09,693.48 L1545.11,698.88 Z" fill="#0a396c"/>
<line x1="1594.40" y1="735.50" x2="1627.40" y2="735.50" stroke="#0a396c" stroke-width="1.7"/>
<path d="M1627.40,735.50 L1622.20,738.20 L1622.20,732.80 Z" fill="#0a396c"/>
<path d="M1594.40,735.50 L1598.40,733.50 L1598.40,737.50 Z" fill="#0a396c"/>
<circle cx="1486.40" cy="696.20" r="7.0" fill="#cde788" stroke="#3d3d3d" stroke-width="1.5"/>
<circle cx="1532.90" cy="696.20" r="7.0" fill="#69acdf" stroke="#0a396c" stroke-width="1.5"/>
<ellipse cx="1580.80" cy="696.10" rx="13.0" ry="6.8" fill="#fdcb94" stroke="#3d3d3d" stroke-width="1.5"/>
<ellipse cx="1492.70" cy="728.75" rx="13.0" ry="6.8" fill="#fdcb94" stroke="#3d3d3d" stroke-width="1.5"/>
<circle cx="1560.10" cy="736.80" r="7.0" fill="#69acdf" stroke="#0a396c" stroke-width="1.5"/>
<circle cx="1587.40" cy="735.50" r="7.0" fill="#69acdf" stroke="#0a396c" stroke-width="1.5"/>
<circle cx="1634.40" cy="735.50" r="7.0" fill="#69acdf" stroke="#0a396c" stroke-width="1.5"/>
<ellipse cx="1646.10" cy="762.80" rx="13.0" ry="6.8" fill="#fdcb94" stroke="#3d3d3d" stroke-width="1.5"/>
<circle cx="1535.40" cy="785.80" r="7.0" fill="#69acdf" stroke="#0a396c" stroke-width="1.5"/>
<circle cx="1610.00" cy="785.80" r="7.0" fill="#cde788" stroke="#3d3d3d" stroke-width="1.5"/>
<circle cx="1459.50" cy="814.30" r="7.0" fill="#69acdf" stroke="#0a396c" stroke-width="1.5"/>
<circle cx="1508.20" cy="814.30" r="7.0" fill="#69acdf" stroke="#0a396c" stroke-width="1.5"/>
<circle cx="1557.10" cy="814.30" r="7.0" fill="#69acdf" stroke="#0a396c" stroke-width="1.5"/>
<circle cx="1606.10" cy="814.30" r="7.0" fill="#69acdf" stroke="#0a396c" stroke-width="1.5"/>
<circle cx="1656.40" cy="814.30" r="7.0" fill="#69acdf" stroke="#0a396c" stroke-width="1.5"/>
<text x="1556.20" y="858.90" font-family="Liberation Serif" font-size="24.4" font-weight="bold" fill="#003a70" text-anchor="middle">Mixed choice network</text>
<text x="1260.40" y="858.20" font-family="Liberation Serif" font-size="24.4" font-weight="bold" fill="#003a70" text-anchor="middle">Gate-level netlist</text>
<text x="1731.30" y="721.20" font-family="Liberation Serif" font-size="21.6" font-weight="bold" fill="#003a70" text-anchor="middle">Best cut</text>
<text x="1731.00" y="746.50" font-family="Liberation Serif" font-size="21.6" font-weight="bold" fill="#003a70" text-anchor="middle">evaluation</text>
<line x1="1695.7" y1="760.4" x2="1746.0" y2="760.4" stroke="#0a396c" stroke-width="3.2"/><path d="M1757.5,760.4 L1741.0,752.0 L1745.0,760.4 L1741.0,768.8 Z" fill="#0a396c"/>
<line x1="1845.30" y1="713.00" x2="1845.30" y2="725.90" stroke="#0a396c" stroke-width="1.35"/>
<rect x="1821.5" y="725.9" width="48.2" height="21.5" rx="3" fill="none" stroke="#0a396c" stroke-width="1.35"/>
<rect x="1821.5" y="778.4" width="48.2" height="22" rx="3" fill="none" stroke="#0a396c" stroke-width="1.35"/>
<rect x="1884.3" y="778.4" width="47.8" height="22" rx="3" fill="none" stroke="#0a396c" stroke-width="1.35"/>
<line x1="1833.20" y1="748.20" x2="1768.80" y2="819.50" stroke="#0a396c" stroke-width="1.35"/>
<line x1="1845.30" y1="747.40" x2="1845.30" y2="778.40" stroke="#0a396c" stroke-width="1.35"/>
<line x1="1858.00" y1="748.20" x2="1907.30" y2="778.40" stroke="#0a396c" stroke-width="1.35"/>
<line x1="1833.20" y1="800.40" x2="1822.90" y2="820.90" stroke="#0a396c" stroke-width="1.35"/>
<line x1="1858.00" y1="800.40" x2="1874.90" y2="820.90" stroke="#0a396c" stroke-width="1.35"/>
<line x1="1896.00" y1="800.40" x2="1885.30" y2="820.90" stroke="#0a396c" stroke-width="1.35"/>
<line x1="1920.40" y1="800.40" x2="1937.30" y2="820.90" stroke="#0a396c" stroke-width="1.35"/>
<text x="1860.40" y="858.20" font-family="Liberation Serif" font-size="24.4" font-weight="bold" fill="#003a70" text-anchor="middle">LUT netlist</text>
<text x="1117.60" y="944.60" font-family="Liberation Serif" font-size="25" font-weight="normal" fill="#111" text-anchor="start">(c)</text>
<line x1="1223.80" y1="909.90" x2="1223.80" y2="923.20" stroke="#0a396c" stroke-width="1.4"/>
<line x1="1218.85" y1="935.15" x2="1200.60" y2="956.70" stroke="#0a396c" stroke-width="1.4" stroke-dasharray="4.5,3"/>
<line x1="1228.75" y1="935.15" x2="1248.20" y2="956.70" stroke="#0a396c" stroke-width="1.4" stroke-dasharray="4.5,3"/>
<line x1="1195.65" y1="968.65" x2="1171.00" y2="1025.20" stroke="#0a396c" stroke-width="1.4" stroke-dasharray="4.5,3"/>
<line x1="1205.55" y1="968.65" x2="1226.70" y2="989.50" stroke="#0a396c" stroke-width="1.4" stroke-dasharray="4.5,3"/>
<line x1="1243.25" y1="968.65" x2="1171.00" y2="1025.20" stroke="#0a396c" stroke-width="1.4" stroke-dasharray="4.5,3"/>
<line x1="1253.15" y1="968.65" x2="1271.50" y2="989.50" stroke="#0a396c" stroke-width="1.4"/>
<line x1="1221.75" y1="1001.45" x2="1201.80" y2="1025.20" stroke="#0a396c" stroke-width="1.4"/>
<line x1="1231.65" y1="1001.45" x2="1232.70" y2="1025.20" stroke="#0a396c" stroke-width="1.4"/>
<line x1="1266.55" y1="1001.45" x2="1260.70" y2="1025.20" stroke="#0a396c" stroke-width="1.4" stroke-dasharray="4.5,3"/>
<line x1="1276.45" y1="1001.45" x2="1290.10" y2="1025.20" stroke="#0a396c" stroke-width="1.4" stroke-dasharray="4.5,3"/>
<circle cx="1223.80" cy="930.20" r="7.0" fill="#69acdf" stroke="#0a396c" stroke-width="1.5"/>
<circle cx="1200.60" cy="963.70" r="7.0" fill="#69acdf" stroke="#0a396c" stroke-width="1.5"/>
<circle cx="1248.20" cy="963.70" r="7.0" fill="#69acdf" stroke="#0a396c" stroke-width="1.5"/>
<circle cx="1226.70" cy="996.50" r="7.0" fill="#69acdf" stroke="#0a396c" stroke-width="1.5"/>
<circle cx="1271.50" cy="996.50" r="7.0" fill="#69acdf" stroke="#0a396c" stroke-width="1.5"/>
<circle cx="1171.00" cy="1032.20" r="7.0" fill="#69acdf" stroke="#0a396c" stroke-width="1.5"/>
<circle cx="1201.80" cy="1032.20" r="7.0" fill="#69acdf" stroke="#0a396c" stroke-width="1.5"/>
<circle cx="1232.70" cy="1032.20" r="7.0" fill="#69acdf" stroke="#0a396c" stroke-width="1.5"/>
<circle cx="1260.70" cy="1032.20" r="7.0" fill="#69acdf" stroke="#0a396c" stroke-width="1.5"/>
<circle cx="1290.10" cy="1032.20" r="7.0" fill="#69acdf" stroke="#0a396c" stroke-width="1.5"/>
<line x1="1446.80" y1="909.20" x2="1446.80" y2="921.90" stroke="#0a396c" stroke-width="1.4" stroke-dasharray="4.5,3"/>
<line x1="1451.75" y1="933.85" x2="1475.50" y2="955.40" stroke="#0a396c" stroke-width="1.4" stroke-dasharray="4.5,3"/>
<line x1="1441.85" y1="933.85" x2="1404.40" y2="1024.40" stroke="#0a396c" stroke-width="1.4" stroke-dasharray="4.5,3"/>
<line x1="1470.55" y1="967.35" x2="1446.80" y2="988.10" stroke="#0a396c" stroke-width="1.4"/>
<line x1="1480.45" y1="967.35" x2="1501.60" y2="988.10" stroke="#0a396c" stroke-width="1.4" stroke-dasharray="4.5,3"/>
<line x1="1441.85" y1="1000.05" x2="1432.40" y2="1024.40" stroke="#0a396c" stroke-width="1.4"/>
<line x1="1451.75" y1="1000.05" x2="1461.30" y2="1024.40" stroke="#0a396c" stroke-width="1.4"/>
<line x1="1496.65" y1="1000.05" x2="1488.80" y2="1024.40" stroke="#0a396c" stroke-width="1.4" stroke-dasharray="4.5,3"/>
<line x1="1506.55" y1="1000.05" x2="1518.60" y2="1024.40" stroke="#0a396c" stroke-width="1.4" stroke-dasharray="4.5,3"/>
<circle cx="1446.80" cy="928.90" r="7.0" fill="#69acdf" stroke="#0a396c" stroke-width="1.5"/>
<circle cx="1475.50" cy="962.40" r="7.0" fill="#69acdf" stroke="#0a396c" stroke-width="1.5"/>
<circle cx="1446.80" cy="995.10" r="7.0" fill="#69acdf" stroke="#0a396c" stroke-width="1.5"/>
<circle cx="1501.60" cy="995.10" r="7.0" fill="#69acdf" stroke="#0a396c" stroke-width="1.5"/>
<circle cx="1404.40" cy="1031.40" r="7.0" fill="#69acdf" stroke="#0a396c" stroke-width="1.5"/>
<circle cx="1432.40" cy="1031.40" r="7.0" fill="#69acdf" stroke="#0a396c" stroke-width="1.5"/>
<circle cx="1461.30" cy="1031.40" r="7.0" fill="#69acdf" stroke="#0a396c" stroke-width="1.5"/>
<circle cx="1488.80" cy="1031.40" r="7.0" fill="#69acdf" stroke="#0a396c" stroke-width="1.5"/>
<circle cx="1518.60" cy="1031.40" r="7.0" fill="#69acdf" stroke="#0a396c" stroke-width="1.5"/>
<text x="1343.00" y="965.70" font-family="Liberation Serif" font-size="24" font-weight="bold" fill="#003a70" text-anchor="middle">MCH</text>
<line x1="1313.6" y1="980.5" x2="1364.3" y2="980.5" stroke="#0a396c" stroke-width="3.2"/><path d="M1375.8,980.5 L1359.3,972.1 L1363.3,980.5 L1359.3,988.9 Z" fill="#0a396c"/>
<text x="1229.10" y="1068.00" font-family="Liberation Serif" font-size="24.2" font-weight="bold" fill="#003a70" text-anchor="middle">Node = 10</text>
<text x="1228.90" y="1096.30" font-family="Liberation Serif" font-size="24.2" font-weight="bold" fill="#003a70" text-anchor="middle">Level = 3</text>
<text x="1466.60" y="1068.00" font-family="Liberation Serif" font-size="24.2" font-weight="bold" fill="#003a70" text-anchor="middle">Node = 9</text>
<text x="1466.20" y="1096.30" font-family="Liberation Serif" font-size="24.2" font-weight="bold" fill="#003a70" text-anchor="middle">Level = 3</text>
<text x="1758.30" y="983.75" font-family="Liberation Serif" font-size="29.9" font-weight="bold" fill="#003a70" text-anchor="middle">Logic optimization</text>
<text x="1762.90" y="1018.90" font-family="Liberation Serif" font-size="29.9" font-weight="bold" fill="#003a70" text-anchor="middle">based on MCH</text>
</svg></body></html>
